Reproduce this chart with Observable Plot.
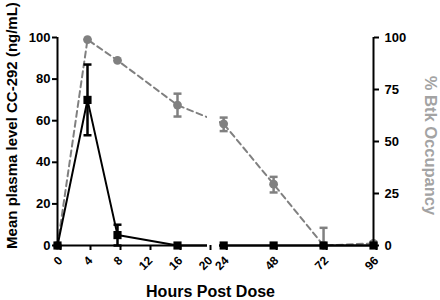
<!DOCTYPE html>
<html>
<head>
<meta charset="utf-8">
<script src="https://cdn.jsdelivr.net/npm/d3@7"></script>
<script src="https://cdn.jsdelivr.net/npm/@observablehq/plot@0.6"></script>
<style>
  html, body { margin: 0; padding: 0; background: #fff; }
  #chart { width: 440px; height: 300px; }
</style>
</head>
<body>
<div id="chart"></div>
<script>
// ---- data ----
const hours     = [0, 4, 8, 16, 24, 48, 72, 96];
const plasma    = [0, 70, 5, 0, 0, 0, 0, 0];
const plasmaLo  = [0, 53, 0, 0, 0, 0, 0, 0];
const plasmaHi  = [0, 87, 10, 0, 0, 0, 0, 0];
const btk       = [0, 99, 89, 67.5, 58.5, 29.5, 0, 1];
const btkLo     = [0, 99, 89, 62, 55, 25.5, 0, 1];
const btkHi     = [0, 99, 89, 73, 61.5, 33, 8.5, 1];
const xTicksA   = [0, 4, 8, 12, 16, 20];
const xTicksB   = [24, 48, 72, 96];
const leftTicks = [0, 20, 40, 60, 80, 100];
const rightTicks = [0, 25, 50, 75, 100];
const breakFrom = 20, breakTo = 22;

const rows = hours.map((h, i) => ({
  h, plasma: plasma[i], pLo: plasmaLo[i], pHi: plasmaHi[i],
  btk: btk[i], bLo: btkLo[i], bHi: btkHi[i]
}));
const pErr = rows.filter(d => d.pHi > d.pLo);
const bErr = rows.filter(d => d.bHi > d.bLo);

const black = "#000";
const gray = "#808080";
const capSymbol = {
  draw(ctx, size) {
    const w = Math.sqrt(size / Math.PI);
    ctx.moveTo(-w, 0); ctx.lineTo(w, 0);
  }
};

const chart = Plot.plot({
  width: 440, height: 300,
  marginLeft: 57, marginRight: 67, marginTop: 37, marginBottom: 55,
  x: {type: "linear", domain: [0, breakFrom, breakTo, 96], range: [57, 207, 219, 373]},
  y: {domain: [0, 100], range: [245, 37]},
  style: {fontFamily: "'Liberation Sans', Arial, sans-serif", background: "white", color: "black"},
  marks: [
    // Btk occupancy (gray, dashed)
    Plot.line(rows, {x: "h", y: "btk", stroke: gray, strokeWidth: 2, strokeDasharray: "6,4"}),
    Plot.ruleX(bErr, {x: "h", y1: "bLo", y2: "bHi", stroke: gray, strokeWidth: 2.5}),
    Plot.dot(bErr, {x: "h", y: "bHi", symbol: capSymbol, r: 4, stroke: gray, strokeWidth: 2.5, fill: "none"}),
    Plot.dot(bErr, {x: "h", y: "bLo", symbol: capSymbol, r: 4, stroke: gray, strokeWidth: 2.5, fill: "none"}),
    Plot.dot(rows, {x: "h", y: "btk", r: 4.4, fill: gray, stroke: "none"}),
    // plasma level (black, solid)
    Plot.line(rows, {x: "h", y: "plasma", stroke: black, strokeWidth: 2}),
    Plot.ruleX(pErr, {x: "h", y1: "pLo", y2: "pHi", stroke: black, strokeWidth: 2.5}),
    Plot.dot(pErr, {x: "h", y: "pHi", symbol: capSymbol, r: 4, stroke: black, strokeWidth: 2.5, fill: "none"}),
    Plot.dot(pErr, {x: "h", y: "pLo", symbol: capSymbol, r: 4, stroke: black, strokeWidth: 2.5, fill: "none"}),
    Plot.dot(rows, {x: "h", y: "plasma", symbol: "square", r: 4.6, fill: black, stroke: "none"}),
    // axis break
    Plot.rect([0], {x1: () => breakFrom, x2: () => breakTo, y1: () => -6, y2: () => 104, fill: "white"}),
    // axis lines
    Plot.ruleY([0], {x1: () => 0, x2: () => breakFrom, stroke: black, strokeWidth: 2}),
    Plot.ruleY([0], {x1: () => breakTo, x2: () => 96, stroke: black, strokeWidth: 2}),
    Plot.ruleX([0], {y1: () => 0, y2: () => 100, stroke: black, strokeWidth: 2}),
    Plot.ruleX([96], {y1: () => 0, y2: () => 100, stroke: black, strokeWidth: 2}),
    // axes
    Plot.axisX(xTicksA.concat(xTicksB), {tickRotate: -45, tickSize: 5, strokeWidth: 2, fontSize: 12, fontWeight: "bold", tickPadding: 8, dx: 3, label: null}),
    Plot.axisY(leftTicks, {anchor: "left", tickSize: 5, strokeWidth: 2, fontSize: 13, fontWeight: "bold", tickPadding: 2, label: null}),
    Plot.axisY(rightTicks, {anchor: "right", tickSize: 5, strokeWidth: 2, fontSize: 13, fontWeight: "bold", tickPadding: 6, label: null}),
    // titles
    Plot.text(["Hours Post Dose"], {frameAnchor: "bottom", textAnchor: "middle", lineAnchor: "middle", dx: -5, dy: 46, fontSize: 16, fontWeight: "bold", fill: black}),
    Plot.text(["Mean plasma level CC-292 (ng/mL)"], {frameAnchor: "left", textAnchor: "middle", lineAnchor: "middle", rotate: -90, dx: -45, dy: -16, fontSize: 15, fontWeight: "bold", fill: black}),
    Plot.text(["% Btk Occupancy"], {frameAnchor: "right", textAnchor: "middle", lineAnchor: "middle", rotate: 90, dx: 57, dy: 4, fontSize: 16.5, fontWeight: "bold", fill: "#a3a3a3"})
  ]
});
document.getElementById("chart").appendChild(chart);
</script>
</body>
</html>
